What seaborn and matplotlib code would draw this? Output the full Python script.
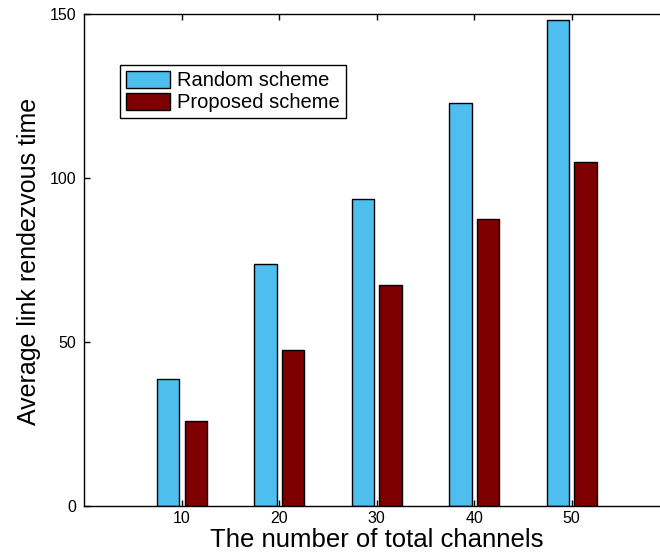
import matplotlib
matplotlib.use("Agg")
import matplotlib.pyplot as plt
import seaborn as sns
import pandas as pd

channels = [10, 20, 30, 40, 50]
random_scheme = [38.6, 73.6, 93.6, 122.8, 148.2]
proposed_scheme = [25.7, 47.4, 67.4, 87.5, 104.9]
series_names = ["Random scheme", "Proposed scheme"]
colors = ["#4DBEEE", "#7E0000"]
yticks = [0, 50, 100, 150]

df = pd.DataFrame({
    "channels": channels * 2,
    "value": random_scheme + proposed_scheme,
    "scheme": [series_names[0]] * len(channels) + [series_names[1]] * len(channels),
})

sns.set_style("ticks")
plt.rcParams["font.family"] = ["Liberation Sans", "DejaVu Sans"]
plt.rcParams["text.color"] = "black"
plt.rcParams["axes.labelcolor"] = "black"

fig = plt.figure(figsize=(6.6, 5.52), dpi=100)
ax = fig.add_axes([0.128, 0.0839, 0.8856, 0.8908])

sns.barplot(data=df, x="channels", y="value", hue="scheme", native_scale=True,
            palette=colors, width=0.568, gap=0.19, edgecolor="black", linewidth=1.0,
            saturation=1, legend=False, ax=ax, errorbar=None)

ax.set_xlim(0, 60)
ax.set_ylim(0, 150)
ax.set_xticks(channels)
ax.set_xticklabels([str(c) for c in channels])
ax.set_yticks(yticks)
ax.tick_params(direction="in", length=4, width=1, colors="black", labelsize=11.5,
               top=True, right=True)
ax.tick_params(axis="x", pad=4)
ax.tick_params(axis="y", pad=6)
for s in ax.spines.values():
    s.set_visible(True)
    s.set_linewidth(1.0)
    s.set_color("black")

ax.set_xlabel("The number of total channels", fontsize=18.5, color="black",
              va="baseline")
ax.xaxis.set_label_coords(0.5004, -0.0835)
ax.set_ylabel("Average link rendezvous time", fontsize=18, color="black")
ax.yaxis.set_label_coords(-0.074, 0.497)

leg = ax.legend(handles=[ax.containers[0], ax.containers[1]], labels=series_names,
                loc="upper left", bbox_to_anchor=(0.0607, 0.896), borderaxespad=0,
                fancybox=False, edgecolor="black", framealpha=1, fontsize=14.5,
                handlelength=2.2, handleheight=0.9, labelspacing=0.12,
                borderpad=0.3, handletextpad=0.35)
leg.get_frame().set_linewidth(1.0)
for t in leg.get_texts():
    t.set_color("black")

fig.savefig("out.png", dpi=100)
